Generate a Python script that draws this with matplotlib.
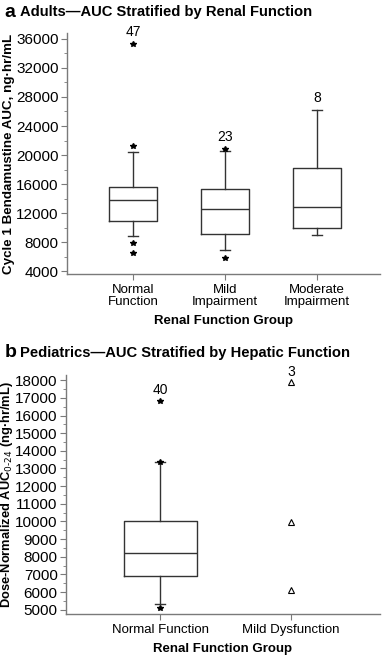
import matplotlib
matplotlib.use("Agg")
import matplotlib.pyplot as plt
from matplotlib.ticker import MultipleLocator

plt.rcParams['font.family'] = ['Liberation Sans', 'DejaVu Sans']

# panel a - adults, renal function
groups_a = ['Normal\nFunction', 'Mild\nImpairment', 'Moderate\nImpairment']
q1_a = [10950, 9200, 10000]
med_a = [13850, 12600, 12900]
q3_a = [15600, 15300, 18200]
wlo_a = [8800, 7000, 9000]
whi_a = [20400, 20500, 26200]
fliers_a = [[35300, 21300, 7900, 6500], [20800, 5800], []]
n_a = ['47', '23', '8']

# panel b - pediatrics, hepatic function
groups_b = ['Normal Function', 'Mild Dysfunction']
q1_b = [6900]
med_b = [8200]
q3_b = [10050]
wlo_b = [5300]
whi_b = [13350]
fliers_b = [16800, 13380, 5080]
mild_dys_b = [17900, 9950, 6130]
n_b = ['40', '3']

box_c = '#333333'
spine_c = '#7a7a7a'


def make_stats(q1, med, q3, lo, hi, fl):
    out = []
    for i in range(len(q1)):
        out.append(dict(q1=q1[i], med=med[i], q3=q3[i], whislo=lo[i],
                        whishi=hi[i], fliers=fl[i]))
    return out


def style_axes(ax):
    for s in ['top', 'right']:
        ax.spines[s].set_visible(False)
    for s in ['left', 'bottom']:
        ax.spines[s].set_color(spine_c)
        ax.spines[s].set_linewidth(1.0)
    ax.tick_params(axis='y', which='major', length=4, color=spine_c, labelsize=11, pad=2)
    ax.tick_params(axis='y', which='minor', length=2, color=spine_c)
    ax.tick_params(axis='x', length=4, color=spine_c, labelsize=9.5, pad=3)


star = dict(marker='*', markersize=3.8, markerfacecolor='black',
            markeredgecolor='black', linestyle='none')

fig = plt.figure(figsize=(3.86, 6.56), dpi=100)

# ---- a
ax1 = fig.add_axes([0.1736, 0.582, 0.81, 0.368])
pos_a = [1, 2, 3]
lp = dict(color=box_c, linewidth=1.0)
ax1.bxp(make_stats(q1_a, med_a, q3_a, wlo_a, whi_a, fliers_a), positions=pos_a,
        widths=0.52, boxprops=lp, whiskerprops=lp, capprops=lp, medianprops=lp,
        flierprops=star, capwidths=0.11)
tops_a = [max([whi_a[i]] + fliers_a[i]) for i in range(3)]
for i in range(3):
    ax1.annotate(n_a[i], (pos_a[i], tops_a[i]), xytext=(0, 3.5), textcoords='offset points',
                 ha='center', va='bottom', fontsize=10)
ax1.set_xlim(0.28, 3.68)
ax1.set_ylim(3600, 36830)
ax1.set_yticks(range(4000, 36001, 4000))
ax1.yaxis.set_minor_locator(MultipleLocator(2000))
ax1.set_xticks(pos_a)
ax1.set_xticklabels(groups_a, linespacing=1.05)
style_axes(ax1)
ax1.set_ylabel('Cycle 1 Bendamustine AUC, ng\u00b7hr/mL', fontsize=9.6, fontweight='bold')
ax1.yaxis.set_label_coords(-0.167, 0.5)
ax1.set_xlabel('Renal Function Group', fontsize=9.5, fontweight='bold', labelpad=5)
fig.text(0.012, 0.981, 'a', fontsize=14, fontweight='bold', va='center')
fig.text(0.052, 0.981, 'Adults\u2014AUC Stratified by Renal Function', fontsize=10.6,
         fontweight='bold', va='center')

# ---- b
ax2 = fig.add_axes([0.171, 0.064, 0.813, 0.364])
ax2.bxp(make_stats(q1_b, med_b, q3_b, wlo_b, whi_b, [fliers_b]), positions=[1],
        widths=0.557, boxprops=lp, whiskerprops=lp, capprops=lp, medianprops=lp,
        flierprops=star, capwidths=0.08)
ax2.plot([2] * len(mild_dys_b), mild_dys_b, linestyle='none', marker='^',
         markersize=5, markerfacecolor='none', markeredgecolor='black',
         markeredgewidth=0.8, clip_on=False)
ax2.annotate(n_b[0], (1, max(fliers_b)), xytext=(0, 3.5), textcoords='offset points',
             ha='center', va='bottom', fontsize=10)
ax2.annotate(n_b[1], (2, max(mild_dys_b)), xytext=(0, 2.5), textcoords='offset points',
             ha='center', va='bottom', fontsize=10, annotation_clip=False)
ax2.set_xlim(0.28, 2.68)
ax2.set_ylim(4755, 18283)
ax2.set_yticks(range(5000, 18001, 1000))
ax2.yaxis.set_minor_locator(MultipleLocator(500))
ax2.set_xticks([1, 2])
ax2.set_xticklabels(groups_b)
style_axes(ax2)
ax2.set_ylabel('Dose-Normalized AUC$_{0\u201024}$ (ng\u00b7hr/mL)', fontsize=9.3,
               fontweight='bold')
ax2.yaxis.set_label_coords(-0.164, 0.5)
ax2.set_xlabel('Renal Function Group', fontsize=9.5, fontweight='bold', labelpad=5)
fig.text(0.012, 0.462, 'b', fontsize=14, fontweight='bold', va='center')
fig.text(0.052, 0.462, 'Pediatrics\u2014AUC Stratified by Hepatic Function', fontsize=10.6,
         fontweight='bold', va='center')

fig.savefig('out.png', dpi=100)
